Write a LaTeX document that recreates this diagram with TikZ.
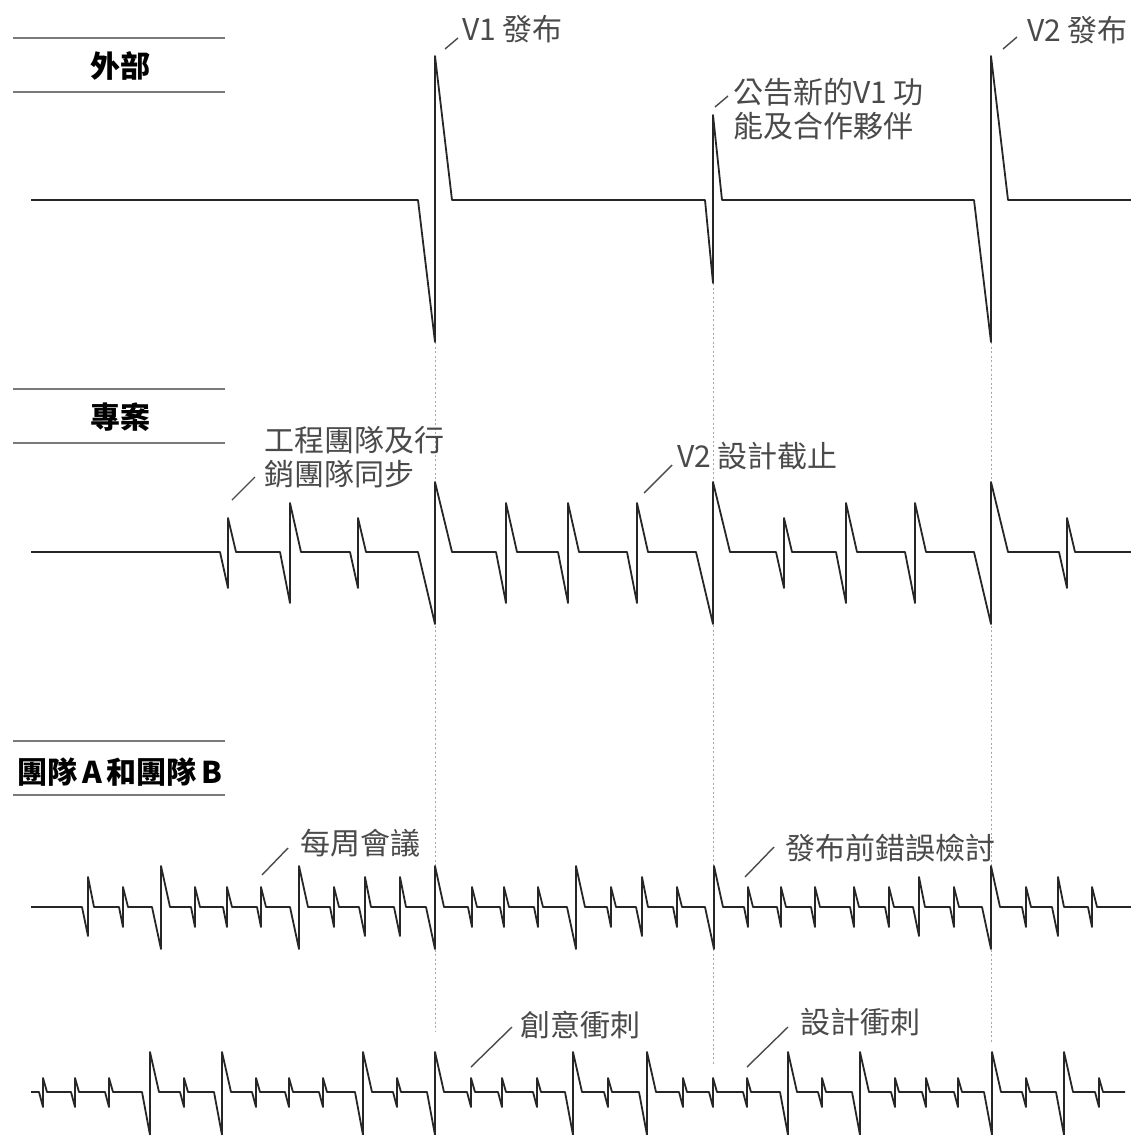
\documentclass[tikz,border=0pt]{standalone}
\usepackage{fontspec}
\newfontfamily\cjk{Noto Sans CJK TC}
\definecolor{labelgray}{HTML}{4A4A4A}
\definecolor{wavecol}{HTML}{262626}
\definecolor{rulegray}{HTML}{7A7A7A}
\definecolor{guidegray}{HTML}{A8A8A8}
\begin{document}
\begin{tikzpicture}[x=1pt,y=-1pt,
  wave/.style={draw=wavecol,line width=1.8pt,line join=round},
  rulel/.style={draw=rulegray,line width=2.5pt},
  guide/.style={draw=guidegray,line width=1pt,dash pattern=on 2pt off 2.5pt},
  leader/.style={draw=labelgray,line width=1.4pt},
  lbl/.style={inner sep=0pt,anchor=west,text=labelgray,align=left,font=\cjk\fontsize{30}{34}\selectfont},
  ttl/.style={inner sep=0pt,text=black,font=\cjk\bfseries\fontsize{30}{34}\selectfont}]
\useasboundingbox (0,0) rectangle (1131,1135);

% ---- titles ----
\draw[rulel] (13,38) -- (225,38);
\draw[rulel] (13,92) -- (225,92);
\node[ttl] (t1) at (120,66) {外部};
\draw[rulel] (13,389) -- (225,389);
\draw[rulel] (13,443) -- (225,443);
\node[ttl] (t2) at (120,417) {專案};
\draw[rulel] (13,741) -- (225,741);
\draw[rulel] (13,795) -- (225,795);
\node[ttl] (t3) at (120,772) {團隊\hspace{5pt}A\hspace{5pt}和團隊\hspace{5pt}B};

% ---- dotted guides ----
\coordinate (g1a) at (435,342); \coordinate (g1b) at (435,1032);
\coordinate (g2a) at (713,283); \coordinate (g2b) at (713,1065);
\coordinate (g3a) at (991,342); \coordinate (g3b) at (991,1042);
\draw[guide] (g1a) -- (g1b);
\draw[guide] (g2a) -- (g2b);
\draw[guide] (g3a) -- (g3b);

% ---- row 1: external ----
\draw[wave] (31,200) foreach \x/\l/\u/\d/\t in
  {435/17/144/142/17, 713/8/85/83/9, 991/17/144/142/17}
  { -- ({\x-\l},200) -- (\x,{200+\d}) -- (\x,{200-\u}) -- ({\x+\t},200) } -- (1131,200);

% ---- row 2: project ----
\draw[wave] (31,552) foreach \x/\l/\u/\d/\t in
  {228/8/34/36/8, 290/10/49/51/11, 358/8/34/36/8, 435/17/70/72/17,
   506/10/49/51/11, 568/10/49/51/11, 637/10/49/51/11, 713/17/70/72/17,
   784/8/34/36/8, 846/10/49/51/11, 915/10/49/51/11, 991/17/70/72/17,
   1067/8/34/36/8}
  { -- ({\x-\l},552) -- (\x,{552+\d}) -- (\x,{552-\u}) -- ({\x+\t},552) } -- (1131,552);

% ---- row 3: teams ----
\draw[wave] (31,907) foreach \x/\l/\u/\d/\t in
  {88/6/30/29/6, 123/4/20/20/5, 161/9/41/42/9, 195/4/20/20/5, 227/4/20/20/5,
   261/4/20/20/5, 299/9/41/42/9, 334/4/20/20/5, 365/6/30/29/6, 400/6/30/29/6,
   435/9/41/42/9, 472/4/20/20/5, 504/4/20/20/5, 538/4/20/20/5, 576/9/41/42/9,
   611/4/20/20/5, 642/6/30/29/6, 677/4/20/20/5, 714/9/41/42/9, 748/4/20/20/5,
   781/4/20/20/5, 815/4/20/20/5, 854/4/20/20/5, 889/4/20/20/5, 919/6/30/29/6,
   954/4/20/20/5, 991/9/41/42/9, 1026/4/20/20/5, 1058/6/30/29/6, 1092/4/20/20/5}
  { -- ({\x-\l},907) -- (\x,{907+\d}) -- (\x,{907-\u}) -- ({\x+\t},907) } -- (1131,907);

% ---- row 4 ----
\draw[wave] (31,1092) foreach \x/\l/\u/\d/\t in
  {43/4/14/15/4, 75/4/14/15/4, 109/4/14/15/4, 150/8/40/43/9, 184/4/14/15/4,
   222/8/40/43/9, 256/4/14/15/4, 289/4/14/15/4, 323/4/14/15/4, 363/8/40/43/9,
   397/4/14/15/4, 435/8/40/43/9, 471/4/14/15/4, 502/4/14/15/4, 537/4/14/15/4,
   573/8/40/43/9, 608/4/14/15/4, 647/8/40/43/9, 683/4/14/15/4, 713/4/14/15/4,
   747/4/14/15/4, 788/8/40/43/9, 822/4/14/15/4, 860/8/40/43/9, 895/4/14/15/4,
   926/4/14/15/4, 958/4/14/15/4, 992/8/40/43/9, 1026/4/14/15/4, 1064/8/40/43/9,
   1099/4/14/15/4}
  { -- ({\x-\l},1092) -- (\x,{1092+\d}) -- (\x,{1092-\u}) -- ({\x+\t},1092) } -- (1125,1092);

% ---- labels ----
\node[lbl] (v1) at (462,29) {V1 發布};
\node[lbl] (v2) at (1027,30) {V2 發布};
\node[lbl] (ann) at (733,109) {公告新的V1 功\\能及合作夥伴};
\node[lbl] (sync) at (264,457) {工程團隊及行\\銷團隊同步};
\node[lbl] (v2d) at (677,456) {V2 設計截止};
\node[lbl] (weekly) at (300,843) {每周會議};
\node[lbl] (bugrev) at (785,848) {發布前錯誤檢討};
\node[lbl] (creat) at (520,1025) {創意衝刺};
\node[lbl] (design) at (800,1022) {設計衝刺};

% ---- leaders ----
\coordinate (lv1) at (445,49);   \coordinate (lv1e) at (458,38);
\coordinate (lv2) at (1003,49);  \coordinate (lv2e) at (1017,37);
\coordinate (lan) at (715,107);  \coordinate (lane) at (728,96);
\coordinate (lsy) at (232,500);  \coordinate (lsye) at (255,477);
\coordinate (lvd) at (644,493);  \coordinate (lvde) at (672,465);
\coordinate (lwk) at (262,875);  \coordinate (lwke) at (288,848);
\coordinate (lbr) at (745,877);  \coordinate (lbre) at (774,847);
\coordinate (lcr) at (471,1067); \coordinate (lcre) at (512,1027);
\coordinate (lds) at (747,1067); \coordinate (ldse) at (788,1027);
\draw[leader] (lv1) -- (lv1e);
\draw[leader] (lv2) -- (lv2e);
\draw[leader] (lan) -- (lane);
\draw[leader] (lsy) -- (lsye);
\draw[leader] (lvd) -- (lvde);
\draw[leader] (lwk) -- (lwke);
\draw[leader] (lbr) -- (lbre);
\draw[leader] (lcr) -- (lcre);
\draw[leader] (lds) -- (ldse);
\end{tikzpicture}
\end{document}
